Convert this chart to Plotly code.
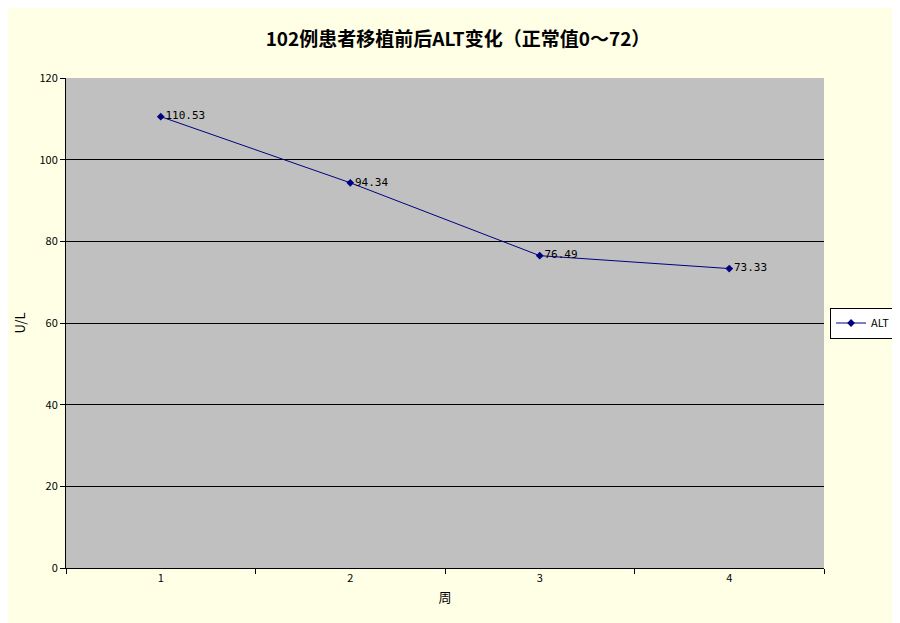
import plotly.graph_objects as go

weeks = ["1", "2", "3", "4"]
alt = [110.53, 94.34, 76.49, 73.33]
labels = ["110.53", "94.34", "76.49", "73.33"]

fig = go.Figure()
fig.add_trace(go.Scatter(
    x=weeks, y=alt, mode="lines+markers+text", name="ALT",
    line=dict(color="#000080", width=1),
    marker=dict(symbol="diamond", size=6, color="#000080"),
    text=labels, textposition="middle right",
    textfont=dict(family="DejaVu Sans Mono, monospace", size=11, color="#000000"),
))
fig.update_layout(
    width=900, height=623, showlegend=True,
    paper_bgcolor="#FFFFE6", plot_bgcolor="#C0C0C0",
    margin=dict(l=49, r=73, t=70, b=63),
    title=dict(text="<b>102例患者移植前后ALT变化（正常值0～72）</b>", x=0.5, y=0.96, xanchor="center",
               font=dict(family="Noto Sans CJK SC", size=19, color="#000000")),
    font=dict(family="Noto Sans CJK SC", size=11, color="#000000"),
    legend=dict(x=1.008, y=0.5, xanchor="left", yanchor="middle", bgcolor="#FFFFFF",
                bordercolor="#000000", borderwidth=1, font=dict(size=11)),
    xaxis=dict(type="category", range=[-0.5, 3.5], tickson="boundaries", ticks="outside",
               ticklen=5, tickcolor="#000", showgrid=False, showline=True, linecolor="#000",
               title=dict(text="周", standoff=8)),
    yaxis=dict(range=[0, 120], dtick=20, showgrid=True, gridcolor="#000000", gridwidth=1,
               ticks="outside", ticklen=5, tickcolor="#000", showline=True, linecolor="#000",
               zeroline=False, title=dict(text="U/L", standoff=10)),
)
fig.write_html("out.html")
